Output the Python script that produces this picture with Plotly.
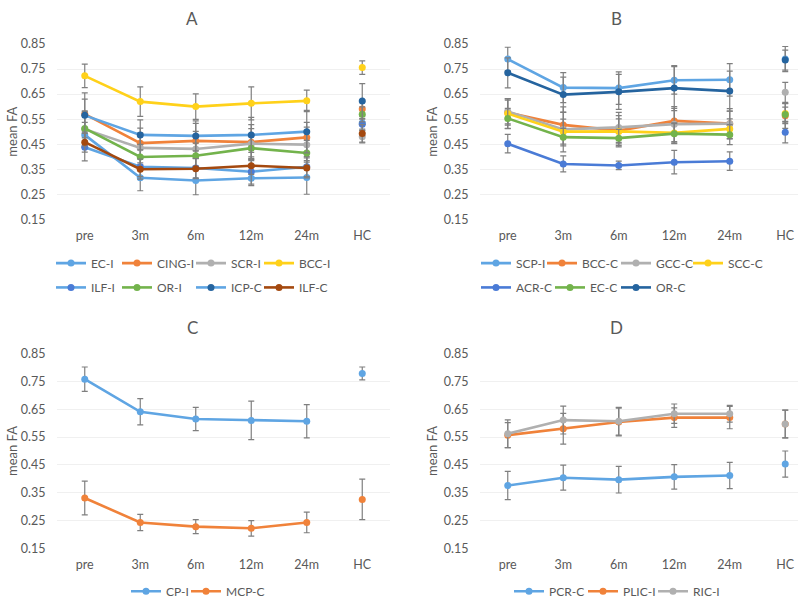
import plotly.graph_objects as go

timepoints = ["pre", "3m", "6m", "12m", "24m", "HC"]

# panel A
ec_i = [0.487, 0.316, 0.305, 0.314, 0.317, 0.535]
cing_i = [0.570, 0.454, 0.463, 0.458, 0.477, 0.590]
scr_i = [0.510, 0.435, 0.431, 0.452, 0.448, 0.480]
bcc_i = [0.723, 0.620, 0.600, 0.613, 0.623, 0.756]
ilf_i = [0.438, 0.360, 0.355, 0.340, 0.360, 0.530]
or_i = [0.513, 0.399, 0.404, 0.434, 0.415, 0.569]
icp_c = [0.565, 0.487, 0.483, 0.487, 0.500, 0.622]
ilf_c = [0.458, 0.350, 0.352, 0.364, 0.355, 0.493]

ec_i_sd = [0.050, 0.052, 0.057, 0.030, 0.067, 0.030]
cing_i_sd = [0.060, 0.060, 0.070, 0.070, 0.060, 0.030]
scr_i_sd = [0.070, 0.060, 0.070, 0.060, 0.070, 0.025]
bcc_i_sd = [0.047, 0.059, 0.051, 0.066, 0.043, 0.027]
ilf_i_sd = [0.055, 0.040, 0.040, 0.050, 0.040, 0.020]
or_i_sd = [0.070, 0.050, 0.050, 0.050, 0.050, 0.030]
icp_c_sd = [0.090, 0.060, 0.060, 0.070, 0.085, 0.070]
ilf_c_sd = [0.040, 0.040, 0.040, 0.035, 0.040, 0.035]

# panel B
scp_i = [0.790, 0.676, 0.674, 0.705, 0.707, 0.790]
bcc_c = [0.576, 0.527, 0.504, 0.543, 0.532, 0.563]
gcc_c = [0.581, 0.509, 0.517, 0.530, 0.532, 0.657]
scc_c = [0.572, 0.500, 0.501, 0.495, 0.511, 0.572]
acr_c = [0.452, 0.371, 0.365, 0.378, 0.382, 0.498]
ec_c = [0.553, 0.478, 0.474, 0.492, 0.488, 0.568]
or_c = [0.735, 0.648, 0.659, 0.674, 0.662, 0.786]

scp_i_sd = [0.047, 0.060, 0.065, 0.055, 0.065, 0.050]
bcc_c_sd = [0.050, 0.050, 0.060, 0.050, 0.050, 0.050]
gcc_c_sd = [0.050, 0.090, 0.060, 0.070, 0.060, 0.040]
scc_c_sd = [0.060, 0.050, 0.050, 0.040, 0.040, 0.040]
acr_c_sd = [0.037, 0.032, 0.017, 0.047, 0.037, 0.043]
ec_c_sd = [0.040, 0.035, 0.035, 0.040, 0.040, 0.030]
or_c_sd = [0.060, 0.070, 0.070, 0.090, 0.080, 0.040]

# panel C
cp_i = [0.758, 0.641, 0.615, 0.610, 0.607, 0.779]
mcp_c = [0.331, 0.243, 0.228, 0.222, 0.243, 0.326]
cp_i_sd = [0.044, 0.047, 0.042, 0.069, 0.060, 0.023]
mcp_c_sd = [0.061, 0.029, 0.025, 0.028, 0.037, 0.073]

# panel D
pcr_c = [0.376, 0.404, 0.397, 0.407, 0.412, 0.453]
plic_i = [0.557, 0.580, 0.604, 0.620, 0.620, 0.597]
ric_i = [0.562, 0.611, 0.607, 0.634, 0.634, 0.597]
pcr_c_sd = [0.051, 0.045, 0.048, 0.044, 0.047, 0.047]
plic_i_sd = [0.045, 0.055, 0.050, 0.035, 0.040, 0.050]
ric_i_sd = [0.050, 0.050, 0.050, 0.035, 0.030, 0.050]

LBLUE = "#5FA5E3"
ORANGE = "#F0823A"
GRAY = "#B0B0B0"
GOLD = "#FFD11A"
BLUE = "#4A7BD6"
GREEN = "#73B34C"
DBLUE = "#25649F"
BROWN = "#A4490F"
TXT = "#595959"
FONT = "Lato"

W, H = 798, 606

fig = go.Figure()
layout = {}


def add_series(n, name, vals, sd, line_col, marker_col, leg_xy):
    # every legend entry gets its own little legend so it can sit where Excel put it
    ax = "" if n == 1 else str(n)
    k = len([key for key in layout if key.startswith("legend")]) + 1
    leg = "legend" if k == 1 else "legend%d" % k
    lx, ly = leg_xy
    layout[leg] = dict(
        orientation="h", x=(lx - 5) / W, y=1 - ly / H, xanchor="left", yanchor="middle",
        bgcolor="rgba(0,0,0,0)", borderwidth=0, itemwidth=30,
        font=dict(size=12, color=TXT, family=FONT))
    err = dict(type="data", visible=True, color="#7F7F7F", thickness=1.2, width=3)
    fig.add_trace(go.Scatter(
        x=timepoints[:5], y=vals[:5], name=name, mode="lines+markers",
        line=dict(color=line_col, width=2.6), marker=dict(color=marker_col, size=7),
        error_y=dict(array=sd[:5], **err), xaxis="x" + ax, yaxis="y" + ax,
        legend=leg))
    fig.add_trace(go.Scatter(
        x=timepoints[5:], y=vals[5:], name=name, mode="markers", showlegend=False,
        marker=dict(color=marker_col, size=7),
        error_y=dict(array=sd[5:], **err), xaxis="x" + ax, yaxis="y" + ax))


add_series(1, "EC-I", ec_i, ec_i_sd, LBLUE, LBLUE, (56, 262))
add_series(1, "CING-I", cing_i, cing_i_sd, ORANGE, ORANGE, (122, 262))
add_series(1, "SCR-I", scr_i, scr_i_sd, GRAY, GRAY, (196, 262))
add_series(1, "BCC-I", bcc_i, bcc_i_sd, GOLD, GOLD, (264, 262))
add_series(1, "ILF-I", ilf_i, ilf_i_sd, LBLUE, BLUE, (56, 287))
add_series(1, "OR-I", or_i, or_i_sd, GREEN, GREEN, (122, 287))
add_series(1, "ICP-C", icp_c, icp_c_sd, LBLUE, DBLUE, (196, 287))
add_series(1, "ILF-C", ilf_c, ilf_c_sd, BROWN, BROWN, (264, 287))

add_series(2, "SCP-I", scp_i, scp_i_sd, LBLUE, LBLUE, (481, 262))
add_series(2, "BCC-C", bcc_c, bcc_c_sd, ORANGE, ORANGE, (547, 262))
add_series(2, "GCC-C", gcc_c, gcc_c_sd, GRAY, GRAY, (621, 262))
add_series(2, "SCC-C", scc_c, scc_c_sd, GOLD, GOLD, (693, 262))
add_series(2, "ACR-C", acr_c, acr_c_sd, BLUE, BLUE, (481, 287))
add_series(2, "EC-C", ec_c, ec_c_sd, GREEN, GREEN, (555, 287))
add_series(2, "OR-C", or_c, or_c_sd, DBLUE, DBLUE, (621, 287))

add_series(3, "CP-I", cp_i, cp_i_sd, LBLUE, LBLUE, (131, 599))
add_series(3, "MCP-C", mcp_c, mcp_c_sd, ORANGE, ORANGE, (191, 599))

add_series(4, "PCR-C", pcr_c, pcr_c_sd, LBLUE, LBLUE, (514, 599))
add_series(4, "PLIC-I", plic_i, plic_i_sd, ORANGE, ORANGE, (588, 599))
add_series(4, "RIC-I", ric_i, ric_i_sd, GRAY, GRAY, (658, 599))

# plot areas in pixels: left, right, top, bottom
boxes = {1: (57, 390, 37, 217), 2: (480, 798, 37, 217),
         3: (57, 390, 355, 555), 4: (480, 798, 355, 555)}
xranges = {1: [-0.5, 5.5], 2: [-0.5, 5.23], 3: [-0.5, 5.5], 4: [-0.5, 5.23]}
ytitle_x = {1: 12, 2: 432, 3: 12, 4: 432}

annotations = []
for n, (l, r, t, b) in boxes.items():
    ax = "" if n == 1 else str(n)
    layout["xaxis" + ax] = dict(
        domain=[l / W, r / W], anchor="y" + ax, type="category",
        categoryorder="array", categoryarray=timepoints, range=xranges[n],
        showgrid=False, zeroline=False, showline=False,
        ticks="outside", ticklen=5, tickcolor="rgba(0,0,0,0)",
        tickfont=dict(size=12.5, color=TXT, family=FONT))
    layout["yaxis" + ax] = dict(
        domain=[1 - b / H, 1 - t / H], anchor="x" + ax, range=[0.15, 0.85],
        dtick=0.1, tick0=0.15, tickformat=".2f", showgrid=True,
        gridcolor="#F0F0F0", gridwidth=1, zeroline=False, showline=False,
        ticks="outside", ticklen=8, tickcolor="rgba(0,0,0,0)",
        tickfont=dict(size=12.5, color=TXT, family=FONT))
    annotations.append(dict(
        text="mean FA", textangle=-90, xref="paper", yref="paper",
        x=ytitle_x[n] / W, y=1 - (t + b) / 2 / H, xanchor="center", yanchor="middle",
        showarrow=False, font=dict(size=13, color=TXT, family=FONT)))

for txt, cx, cy in [("A", 192, 11), ("B", 616, 11), ("C", 192, 328), ("D", 616, 328)]:
    annotations.append(dict(
        text=txt, xref="paper", yref="paper", x=cx / W, y=1 - cy / H,
        xanchor="center", yanchor="middle",
        showarrow=False, font=dict(size=17, color=TXT, family=FONT)))

fig.update_layout(
    width=W, height=H, margin=dict(l=0, r=0, t=0, b=0),
    paper_bgcolor="white", plot_bgcolor="white",
    annotations=annotations, **layout)

fig.write_html("out.html", config={"displayModeBar": False},
               post_script="document.body.style.margin = '0';")
